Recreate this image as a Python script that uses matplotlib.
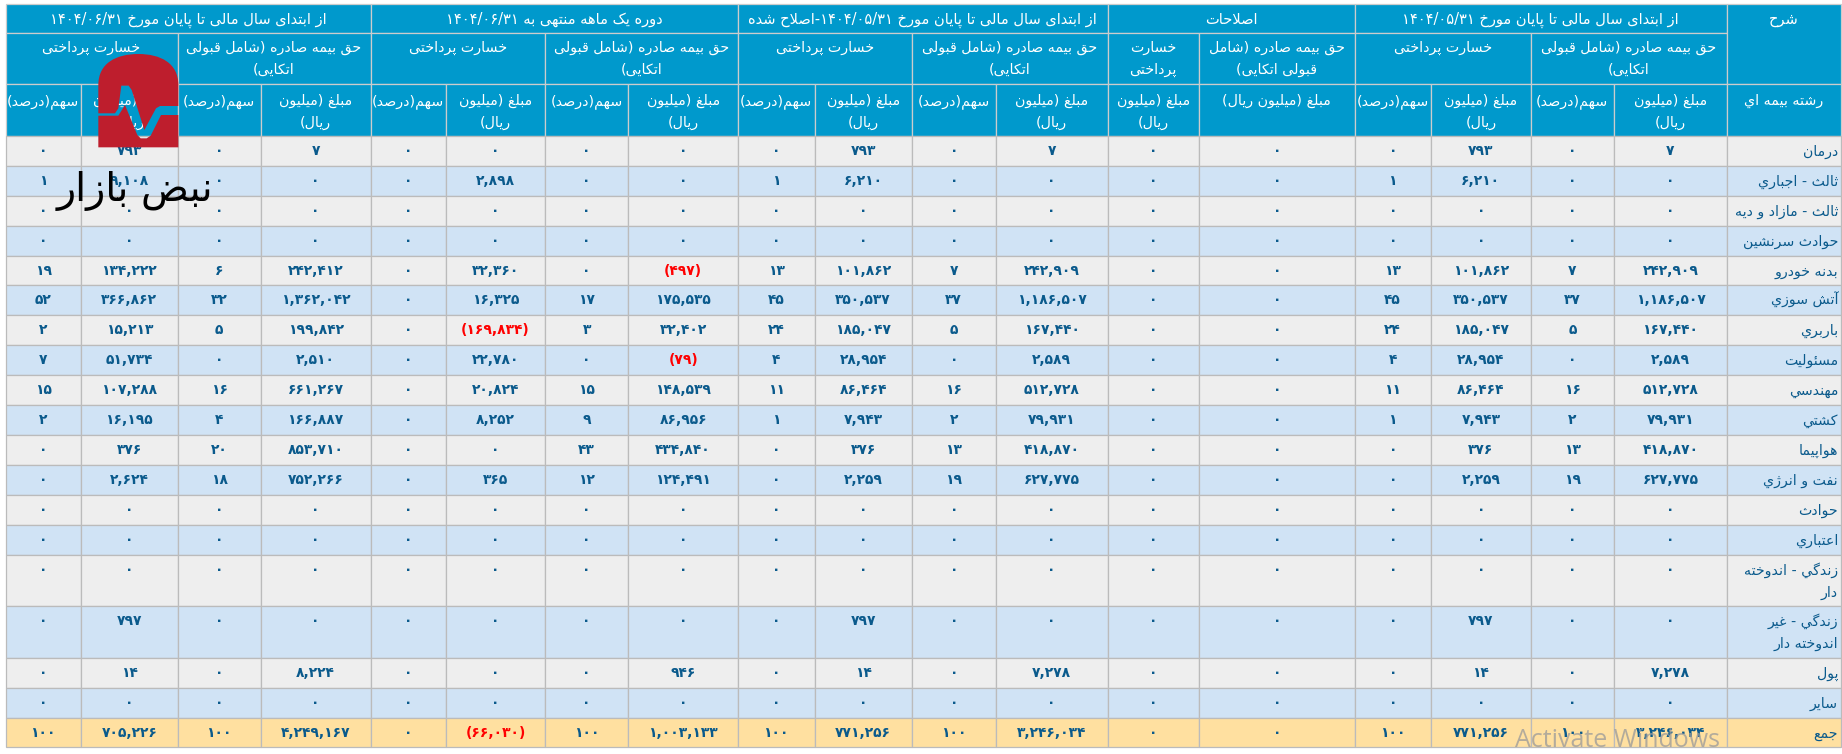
import re
import matplotlib
matplotlib.use("Agg")
import matplotlib.pyplot as plt
from matplotlib.patches import Rectangle, Polygon, PathPatch
from matplotlib.path import Path

plt.rcParams['font.family'] = ['DejaVu Sans']

# ---------- data ----------
row_names = ['درمان', 'ثالث - اجباري', 'ثالث - مازاد و ديه', 'حوادث سرنشين', 'بدنه خودرو', 'آتش سوزي',
             'باربري', 'مسئوليت', 'مهندسي', 'کشتي', 'هواپيما', 'نفت و انرژي', 'حوادث', 'اعتباري',
             'زندگي - اندوخته\nدار', 'زندگي - غير\nاندوخته دار', 'پول', 'ساير', 'جمع']

may_premium = [7, 0, 0, 0, 242909, 1186507, 167440, 2589, 512728, 79931, 418870, 627775, 0, 0, 0, 0, 7278, 0, 3246034]
may_premium_share = [0, 0, 0, 0, 7, 37, 5, 0, 16, 2, 13, 19, 0, 0, 0, 0, 0, 0, 100]
may_claims = [793, 6210, 0, 0, 101862, 350537, 185047, 28954, 86464, 7943, 376, 2259, 0, 0, 0, 797, 14, 0, 771256]
may_claims_share = [0, 1, 0, 0, 13, 45, 24, 4, 11, 1, 0, 0, 0, 0, 0, 0, 0, 0, 100]
adj_premium = [0] * 19
adj_claims = [0] * 19
month_premium = [0, 0, 0, 0, -497, 175535, 32402, -79, 148539, 86956, 434840, 124491, 0, 0, 0, 0, 946, 0, 1003133]
month_premium_share = [0, 0, 0, 0, 0, 17, 3, 0, 15, 9, 43, 12, 0, 0, 0, 0, 0, 0, 100]
month_claims = [0, 2898, 0, 0, 32360, 16325, -169834, 22780, 20824, 8252, 0, 365, 0, 0, 0, 0, 0, 0, -66030]
month_claims_share = [0] * 19
jun_premium = [7, 0, 0, 0, 242412, 1362042, 199842, 2510, 661267, 166887, 853710, 752266, 0, 0, 0, 0, 8224, 0, 4249167]
jun_premium_share = [0, 0, 0, 0, 6, 32, 5, 0, 16, 4, 20, 18, 0, 0, 0, 0, 0, 0, 100]
jun_claims = [793, 9108, 0, 0, 134222, 366862, 15213, 51734, 107288, 16195, 376, 2624, 0, 0, 0, 797, 14, 0, 705226]
jun_claims_share = [0, 1, 0, 0, 19, 52, 2, 7, 15, 2, 0, 0, 0, 0, 0, 0, 0, 0, 100]

# left to right on the page
value_columns = [jun_claims_share, jun_claims, jun_premium_share, jun_premium,
                 month_claims_share, month_claims, month_premium_share, month_premium,
                 may_claims_share, may_claims, may_premium_share, may_premium,
                 adj_claims, adj_premium,
                 may_claims_share, may_claims, may_premium_share, may_premium]

PREM = 'حق بیمه صادره (شامل قبولی\nاتکایی)'
CLAIM = 'خسارت پرداختی'
AMT = 'مبلغ (میلیون\nریال)'
SHARE = 'سهم(درصد)'
group_titles = ['از ابتدای سال مالی تا پایان مورخ ۱۴۰۴/۰۶/۳۱', 'دوره یک ماهه منتهی به ۱۴۰۴/۰۶/۳۱',
                'از ابتدای سال مالی تا پایان مورخ ۱۴۰۴/۰۵/۳۱-اصلاح شده', 'اصلاحات',
                'از ابتدای سال مالی تا پایان مورخ ۱۴۰۴/۰۵/۳۱']
sub_titles = [CLAIM, PREM, CLAIM, PREM, CLAIM, PREM, 'خسارت\nپرداختی', 'حق بیمه صادره (شامل\nقبولی اتکایی)', CLAIM, PREM]
col_titles = [SHARE, AMT, SHARE, AMT, SHARE, AMT, SHARE, AMT, SHARE, AMT, SHARE, AMT,
              AMT, 'مبلغ (میلیون ریال)', SHARE, AMT, SHARE, AMT]
corner_top = 'شرح'
corner_bottom = 'رشته بیمه اي'
logo_text = 'نبض بازار'
os_note = 'Activate Windows'

# ---------- layout ----------
x_edges = [5.5, 81, 177.5, 260.6, 370.5, 446, 545, 628.3, 738, 814.5, 912, 995.6, 1107.5, 1199,
           1354.5, 1431, 1530.7, 1614, 1727, 1841]
y_head = [3.5, 33, 84, 136]
y_rows = [136, 166, 196, 226, 256, 285, 315, 345, 375, 405, 435, 465, 495, 525, 555, 606, 658, 688, 718, 747]
group_spans = [(0, 4), (4, 8), (8, 12), (12, 14), (14, 18)]
sub_spans = [(0, 2), (2, 4), (4, 6), (6, 8), (8, 10), (10, 12), (12, 13), (13, 14), (14, 16), (16, 18)]

C_HEAD, C_GRAY, C_BLUE, C_TOTAL = '#0099CC', '#EEEEEE', '#D0E3F5', '#FFE0A0'
C_GRID, C_HGRID, C_TEXT, C_RED = '#BBBBBB', '#CCCCCC', '#0A5A8C', '#FF0000'
FS_BODY, FS_TITLE, FS_HEAD, FS_LABEL = 10.0, 10.5, 10.3, 10.2
LW = 0.9

# ---------- Persian shaping (matplotlib lays out glyphs without shaping) ----------
_B = {'ء': (0xFE80, 1), 'آ': (0xFE81, 2), 'أ': (0xFE83, 2), 'ؤ': (0xFE85, 2), 'إ': (0xFE87, 2), 'ئ': (0xFE89, 4),
      'ا': (0xFE8D, 2), 'ب': (0xFE8F, 4), 'ة': (0xFE93, 2), 'ت': (0xFE95, 4), 'ث': (0xFE99, 4), 'ج': (0xFE9D, 4),
      'ح': (0xFEA1, 4), 'خ': (0xFEA5, 4), 'د': (0xFEA9, 2), 'ذ': (0xFEAB, 2), 'ر': (0xFEAD, 2), 'ز': (0xFEAF, 2),
      'س': (0xFEB1, 4), 'ش': (0xFEB5, 4), 'ص': (0xFEB9, 4), 'ض': (0xFEBD, 4), 'ط': (0xFEC1, 4), 'ظ': (0xFEC5, 4),
      'ع': (0xFEC9, 4), 'غ': (0xFECD, 4), 'ف': (0xFED1, 4), 'ق': (0xFED5, 4), 'ك': (0xFED9, 4), 'ل': (0xFEDD, 4),
      'م': (0xFEE1, 4), 'ن': (0xFEE5, 4), 'ه': (0xFEE9, 4), 'و': (0xFEED, 2), 'ى': (0xFEEF, 2), 'ي': (0xFEF1, 4),
      'پ': (0xFB56, 4), 'چ': (0xFB7A, 4), 'ژ': (0xFB8A, 2), 'ک': (0xFB8E, 4), 'گ': (0xFB92, 4), 'ی': (0xFBFC, 4)}
_LA = {'آ': 0xFEF5, 'أ': 0xFEF7, 'إ': 0xFEF9, 'ا': 0xFEFB}
_MIRROR = str.maketrans('()', ')(')


def shape(line):
    chars = list(line)
    out = []
    i = 0
    while i < len(chars):
        ch = chars[i]
        if ch not in _B:
            out.append(ch)
            i += 1
            continue
        prev = chars[i - 1] if i else ''
        joins_prev = prev in _B and _B[prev][1] == 4
        if ch == 'ل' and i + 1 < len(chars) and chars[i + 1] in _LA:
            out.append(chr(_LA[chars[i + 1]] + (1 if joins_prev else 0)))
            i += 2
            continue
        nxt = chars[i + 1] if i + 1 < len(chars) else ''
        start, n = _B[ch]
        joins_next = n == 4 and nxt in _B
        if n == 1:
            code = start
        elif joins_prev and joins_next:
            code = start + 3
        elif joins_next:
            code = start + 2
        elif joins_prev:
            code = start + 1
        else:
            code = start
        out.append(chr(code))
        i += 1
    return ''.join(out)


def visual(line):
    shaped = shape(line)[::-1].translate(_MIRROR)
    return re.sub(r'[۰-۹0-9/,]+', lambda m: m.group(0)[::-1], shaped)


def fa_number(v):
    s = f'{abs(v):,}'.translate(str.maketrans('0123456789', '۰۱۲۳۴۵۶۷۸۹'))
    return f'({s})' if v < 0 else s


# ---------- drawing ----------
fig = plt.figure(figsize=(18.42, 7.54), dpi=100, facecolor='white')
ax = fig.add_axes([0, 0, 1, 1])
ax.set_xlim(0, 1842)
ax.set_ylim(754, 0)
ax.axis('off')


def cell(x0, x1, y0, y1, fc, ec):
    ax.add_patch(Rectangle((x0, y0), x1 - x0, y1 - y0, fc=fc, ec=ec, lw=LW, zorder=1))


def lines(text, x, base, step, color=C_TEXT, fs=FS_HEAD, ha='center'):
    for k, ln in enumerate(text.split('\n')):
        ax.text(x, base + k * step, visual(ln), color=color, fontsize=fs, ha=ha, va='baseline', zorder=2)


for (a, b), title in zip(group_spans, group_titles):
    cell(x_edges[a], x_edges[b], y_head[0], y_head[1], C_HEAD, C_HGRID)
    lines(title, (x_edges[a] + x_edges[b]) / 2, y_head[0] + 20, 22, 'white', FS_TITLE)
for (a, b), title in zip(sub_spans, sub_titles):
    cell(x_edges[a], x_edges[b], y_head[1], y_head[2], C_HEAD, C_HGRID)
    lines(title, (x_edges[a] + x_edges[b]) / 2, y_head[1] + 19, 22, 'white')
for i, title in enumerate(col_titles):
    cell(x_edges[i], x_edges[i + 1], y_head[2], y_head[3], C_HEAD, C_HGRID)
    lines(title, (x_edges[i] + x_edges[i + 1]) / 2, y_head[2] + 21, 22, 'white')
cell(x_edges[-2], x_edges[-1], y_head[0], y_head[2], C_HEAD, C_HGRID)
lines(corner_top, (x_edges[-2] + x_edges[-1]) / 2, y_head[0] + 20, 22, 'white', FS_TITLE)
cell(x_edges[-2], x_edges[-1], y_head[2], y_head[3], C_HEAD, C_HGRID)
lines(corner_bottom, (x_edges[-2] + x_edges[-1]) / 2, y_head[2] + 21, 22, 'white')

n_rows = len(row_names)
for r in range(n_rows):
    y0, y1 = y_rows[r], y_rows[r + 1]
    fc = C_TOTAL if r == n_rows - 1 else (C_GRAY if r % 2 == 0 else C_BLUE)
    for c, values in enumerate(value_columns):
        cell(x_edges[c], x_edges[c + 1], y0, y1, fc, C_GRID)
        v = values[r]
        ax.text((x_edges[c] + x_edges[c + 1]) / 2, y0 + 19, fa_number(v), color=C_RED if v < 0 else C_TEXT,
                fontsize=FS_BODY, fontweight='bold', ha='center', va='baseline', zorder=2)
    cell(x_edges[-2], x_edges[-1], y0, y1, fc, C_GRID)
    lines(row_names[r], x_edges[-1] - 3, y0 + 20, 22, C_TEXT, FS_LABEL, 'right')

# site logo laid over the table
LOGO = '#BE1E2D'
ox, oy, u = 50, 45, 1 / 3


def P(pts):
    return [(ox + px * u, oy + py * u) for px, py in pts]


verts = P([(145, 205), (145, 120), (145, 54), (199, 27), (265, 27), (331, 27), (385, 54), (385, 120),
           (385, 183), (330, 183), (318, 190), (283, 255), (245, 135), (236, 122), (225, 122), (214, 122),
           (205, 190), (195, 205), (145, 205)])
codes = [Path.MOVETO, Path.LINETO] + [Path.CURVE4] * 6 + [Path.LINETO] * 10 + [Path.CLOSEPOLY]
ax.add_patch(PathPatch(Path(verts, codes), fc=LOGO, ec='none', zorder=4))
ax.add_patch(Polygon(P([(145, 212), (205, 212), (225, 180), (262, 270), (272, 280), (290, 280), (302, 272),
                        (333, 210), (385, 210), (385, 307), (145, 307)]), closed=True, fc=LOGO, ec='none', zorder=4))
ax.text(135, 201, visual(logo_text), color='black', fontsize=28.5, ha='center', va='baseline', zorder=5)
ax.text(1515, 747, os_note, color='#9A9A9A', alpha=0.75, fontsize=18, family='Open Sans', ha='left', va='baseline', zorder=6)

fig.savefig('out.png', dpi=100, facecolor='white')
